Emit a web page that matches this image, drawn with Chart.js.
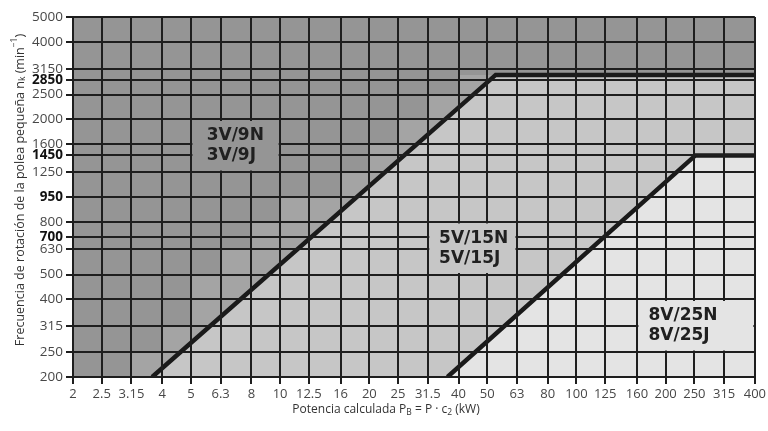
<!DOCTYPE html>
<html>
<head>
<meta charset="utf-8">
<script src="https://cdn.jsdelivr.net/npm/chart.js@4.4.0/dist/chart.umd.min.js"></script>
<style>
  html, body { margin: 0; padding: 0; background: #fff; }
  #wrap { width: 768px; height: 431px; position: relative; }
</style>
</head>
<body>
<div id="wrap"><canvas id="chart"></canvas></div>
<script>
// x axis: calculated power P_B (kW), R10 steps
const xTickValues = [2, 2.5, 3.15, 4, 5, 6.3, 8, 10, 12.5, 16, 20, 25, 31.5, 40, 50, 63, 80, 100, 125, 160, 200, 250, 315, 400];
const xTickLabels = ["2", "2.5", "3.15", "4", "5", "6.3", "8", "10", "12.5", "16", "20", "25", "31.5", "40", "50", "63", "80", "100", "125", "160", "200", "250", "315", "400"];

// y axis: small pulley speed (min-1); the 1000 line carries the label 950 in the original
const yTickValues = [200, 250, 315, 400, 500, 630, 700, 800, 1000, 1250, 1450, 1600, 2000, 2500, 2850, 3150, 4000, 5000];
const yTickLabels = ["200", "250", "315", "400", "500", "630", "700", "800", "950", "1250", "1450", "1600", "2000", "2500", "2850", "3150", "4000", "5000"];
const yBoldLabels = ["700", "950", "1450", "2850"];

// border between 3V/9 and 5V/15
const limit1X = [3.7, 53.4, 400];
const limit1Y = [200, 2980, 2980];
// border between 5V/15 and 8V/25
const limit2X = [36.7, 252, 400];
const limit2Y = [200, 1450, 1450];

// lighter stepped band left of the first border
const bandX = [3.15, 3.15, 4, 4, 5, 5, 6.3, 6.3, 8, 8, 10, 10, 16, 16, 20, 20, 25, 25, 31.5, 31.5, 40, 40, 53.4, 3.7];
const bandY = [200, 250, 250, 315, 315, 500, 500, 630, 630, 800, 800, 1000, 1000, 1250, 1250, 1600, 1600, 2000, 2000, 2500, 2500, 2980, 2980, 200];

const profileNames = [["3V/9N", "3V/9J"], ["5V/15N", "5V/15J"], ["8V/25N", "8V/25J"]];

const COL = {
  dark: "#959595",
  band: "#a4a4a4",
  mid: "#c6c6c6",
  light: "#e4e4e4",
  grid: "#1e1e1e",
  line: "#1a1a1a",
  text: "#474747"
};
const FONT = "'Open Sans', 'DejaVu Sans', sans-serif";

// label boxes: cell range they clear, text anchor (left x value), box fill
const labelBoxes = [
  { x1: 5, x2: 10, y1: 1250, y2: 2000, tx: 5.65, fill: COL.dark },
  { x1: 31.5, x2: 63, y1: 500, y2: 800, tx: 34.4, fill: COL.mid },
  { x1: 160, x2: 400, y1: 250, y2: 400, tx: 175, fill: COL.light }
];

function pts(xs, ys) {
  return xs.map((v, i) => ({ x: v, y: ys[i] }));
}

const regionPlugin = {
  id: "regions",
  beforeDatasetsDraw(chart) {
    const { ctx, chartArea: a, scales: { x, y } } = chart;
    ctx.save();
    ctx.fillStyle = COL.dark;
    ctx.fillRect(a.left, a.top, a.width, a.height);
    ctx.beginPath();
    bandX.forEach((v, i) => {
      const px = x.getPixelForValue(v);
      const py = y.getPixelForValue(bandY[i]);
      if (i === 0) ctx.moveTo(px, py); else ctx.lineTo(px, py);
    });
    ctx.closePath();
    ctx.fillStyle = COL.band;
    ctx.fill();
    ctx.restore();
  }
};

function drawPieces(ctx, pieces, cx, cy) {
  let total = 0;
  pieces.forEach((p) => {
    ctx.font = p.size + "px " + FONT;
    p.w = ctx.measureText(p.t).width;
    total += p.w;
  });
  let pos = cx - total / 2;
  pieces.forEach((p) => {
    ctx.font = p.size + "px " + FONT;
    ctx.fillText(p.t, pos, cy + (p.dy || 0));
    pos += p.w;
  });
}

const labelPlugin = {
  id: "labels",
  afterDraw(chart) {
    const { ctx, scales: { x, y } } = chart;
    ctx.save();
    labelBoxes.forEach((b, i) => {
      const l = x.getPixelForValue(b.x1) + 1.5;
      const r = x.getPixelForValue(b.x2) - 1.5;
      const t = y.getPixelForValue(b.y2) + 1.5;
      const bt = y.getPixelForValue(b.y1) - 1.5;
      ctx.fillStyle = b.fill;
      ctx.fillRect(l, t, r - l, bt - t);
      const cy = (t + bt) / 2;
      ctx.fillStyle = "#202020";
      ctx.font = "bold 17px 'DejaVu Sans', sans-serif";
      ctx.textBaseline = "middle";
      ctx.textAlign = "left";
      const tx = x.getPixelForValue(b.tx);
      ctx.fillText(profileNames[i][0], tx, cy - 10);
      ctx.fillText(profileNames[i][1], tx, cy + 10);
    });

    // axis titles with sub/superscripts
    ctx.fillStyle = "#333";
    ctx.textBaseline = "middle";
    ctx.textAlign = "left";
    drawPieces(ctx, [
      { t: "Potencia calculada P", size: 12 },
      { t: "B", size: 8.5, dy: 3 },
      { t: " = P · c", size: 12 },
      { t: "2", size: 8.5, dy: 3 },
      { t: " (kW)", size: 12 }
    ], 386, 410);

    ctx.translate(20, 190);
    ctx.rotate(-Math.PI / 2);
    drawPieces(ctx, [
      { t: "Frecuencia de rotación de la polea pequeña n", size: 12.5 },
      { t: "k", size: 8.5, dy: 3 },
      { t: " (min", size: 12.5 },
      { t: "−1", size: 8.5, dy: -5 },
      { t: ")", size: 12.5 }
    ], 0, 0);
    ctx.restore();
  }
};

const gridOpts = {
  color: COL.grid,
  lineWidth: 2,
  tickLength: 7,
  tickColor: COL.grid,
  tickWidth: 2,
  z: 1
};
const borderOpts = { display: true, color: COL.grid, width: 2, z: 1 };

new Chart(document.getElementById("chart"), {
  type: "line",
  data: {
    datasets: [
      {
        data: pts(limit2X, limit2Y),
        borderColor: COL.line,
        borderWidth: 4.5,
        backgroundColor: COL.light,
        fill: "start",
        pointRadius: 0,
        tension: 0,
        borderJoinStyle: "miter",
        order: 1
      },
      {
        data: pts(limit1X, limit1Y),
        borderColor: COL.line,
        borderWidth: 4.5,
        backgroundColor: COL.mid,
        fill: "start",
        pointRadius: 0,
        tension: 0,
        borderJoinStyle: "miter",
        order: 2
      }
    ]
  },
  options: {
    responsive: true,
    maintainAspectRatio: false,
    animation: false,
    layout: { padding: { top: 17, right: 12, left: 0, bottom: 0 } },
    plugins: {
      legend: { display: false },
      tooltip: { enabled: false }
    },
    scales: {
      x: {
        type: "logarithmic",
        min: 2,
        max: 400,
        z: 1,
        grid: gridOpts,
        border: borderOpts,
        afterBuildTicks: (s) => { s.ticks = xTickValues.map((v) => ({ value: v })); },
        afterFit: (s) => { s.height = 54; },
        ticks: {
          autoSkip: false,
          maxRotation: 0,
          padding: 2,
          color: COL.text,
          font: { family: FONT, size: 13 },
          callback: (v, i) => xTickLabels[i]
        }
      },
      y: {
        type: "logarithmic",
        min: 200,
        max: 5000,
        z: 1,
        grid: gridOpts,
        border: borderOpts,
        afterBuildTicks: (s) => { s.ticks = yTickValues.map((v) => ({ value: v })); },
        afterFit: (s) => { s.width = 73; },
        ticks: {
          autoSkip: false,
          padding: 3,
          color: (c) => yBoldLabels.includes(yTickLabels[c.index]) ? "#111" : COL.text,
          font: (c) => ({
            family: FONT,
            size: 13.5,
            weight: yBoldLabels.includes(yTickLabels[c.index]) ? "bold" : "normal"
          }),
          callback: (v, i) => yTickLabels[i]
        }
      }
    }
  },
  plugins: [regionPlugin, labelPlugin]
});
</script>
</body>
</html>
